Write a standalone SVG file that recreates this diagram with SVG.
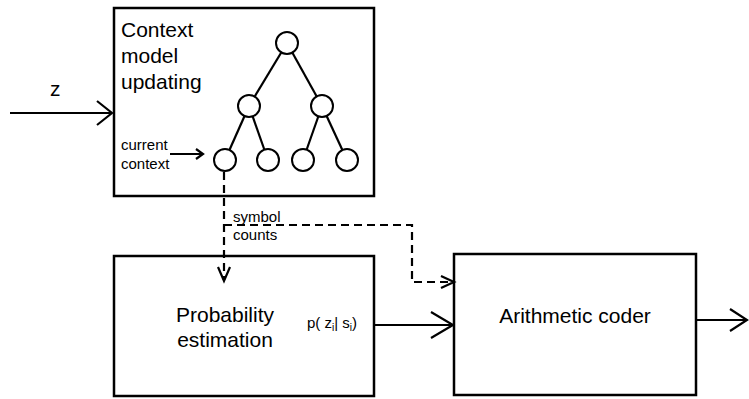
<svg xmlns="http://www.w3.org/2000/svg" width="749" height="399" viewBox="0 0 749 399">
<style>
.box{fill:#fff;stroke:#000;stroke-width:2.5}
.ln{fill:none;stroke:#000;stroke-width:2.2}
.ds{fill:none;stroke:#000;stroke-width:2.2;stroke-dasharray:8,5}
.nd{fill:#fff;stroke:#000;stroke-width:2}
.big{font-family:"Liberation Sans",Arial,sans-serif;font-size:21px;fill:#000}
.sm{font-family:"Liberation Sans",Arial,sans-serif;font-size:15px;fill:#000}
</style>
<g id="context-model">
<rect class="box" x="114" y="8" width="260" height="188"/>
<text class="big" x="121" y="37">Context</text>
<text class="big" x="121" y="63">model</text>
<text class="big" x="121" y="89">updating</text>
<g id="tree">
<line class="ln" x1="287" y1="43" x2="249" y2="106"/>
<line class="ln" x1="287" y1="43" x2="322" y2="106"/>
<line class="ln" x1="249" y1="106" x2="225" y2="160"/>
<line class="ln" x1="249" y1="106" x2="268" y2="160"/>
<line class="ln" x1="322" y1="106" x2="303" y2="160"/>
<line class="ln" x1="322" y1="106" x2="347" y2="160"/>
<circle class="nd" cx="287" cy="43" r="11"/>
<circle class="nd" cx="249" cy="106" r="11"/>
<circle class="nd" cx="322" cy="106" r="11"/>
<circle class="nd" cx="225" cy="160" r="11"/>
<circle class="nd" cx="268" cy="160" r="11"/>
<circle class="nd" cx="303" cy="160" r="11"/>
<circle class="nd" cx="347" cy="160" r="11"/>
</g>
<text class="sm" x="121" y="150">current</text>
<text class="sm" x="121" y="169">context</text>
</g>
<g id="probability-estimation">
<rect class="box" x="114" y="256" width="260" height="140"/>
<text class="big" x="225" y="322" text-anchor="middle">Probability</text>
<text class="big" x="225" y="347" text-anchor="middle">estimation</text>
<text class="sm" x="307" y="328">p( z<tspan font-size="10" dy="3">i</tspan><tspan dy="-3">| s</tspan><tspan font-size="10" dy="3">i</tspan><tspan dy="-3">)</tspan></text>
</g>
<g id="arithmetic-coder">
<rect class="box" x="454" y="254" width="242" height="141"/>
<text class="big" x="575" y="323" text-anchor="middle">Arithmetic coder</text>
</g>
<g id="connectors">
<text class="big" x="50" y="96">z</text>
<line class="ln" x1="10" y1="113" x2="112" y2="113"/>
<polyline class="ln" points="97,101 112,113 97,125"/>
<line class="ln" x1="170" y1="154" x2="203" y2="154"/>
<polyline class="ln" points="196,149 203,154 196,159"/>
<line class="ds" x1="224" y1="172" x2="224" y2="280"/>
<polyline class="ln" points="218,267 224,281 230,267"/>
<polyline class="ds" points="224,225 412,225 412,282 452,282"/>
<polyline class="ln" points="441,276 454,282 441,288"/>
<text class="sm" x="233" y="222">symbol</text>
<text class="sm" x="233" y="240">counts</text>
<line class="ln" x1="374" y1="325" x2="453" y2="325"/>
<polyline class="ln" points="431,312 453,325 431,338"/>
<line class="ln" x1="696" y1="320" x2="747" y2="320"/>
<polyline class="ln" points="730,309 747,320 730,331"/>
</g>
</svg>
